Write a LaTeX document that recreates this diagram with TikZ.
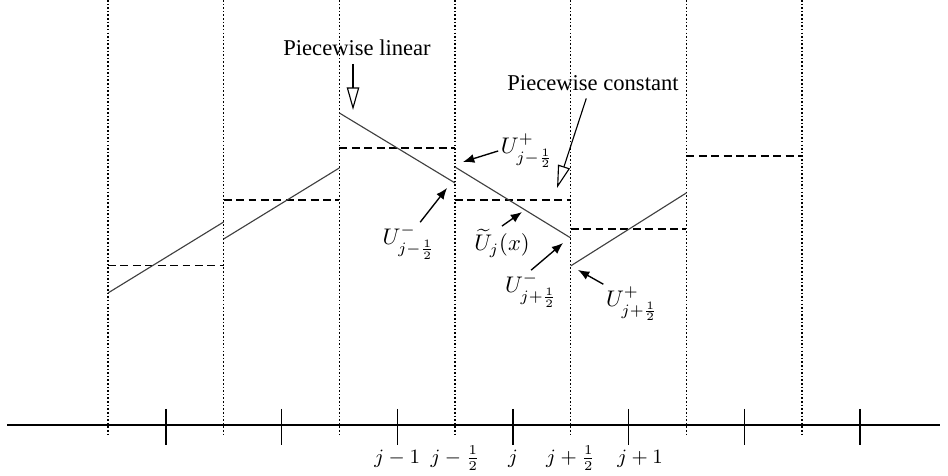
\documentclass[tikz,border=0pt]{standalone}
\usepackage{fontspec}
\setmainfont{Liberation Serif}
\usetikzlibrary{arrows.meta}
\begin{document}
\begin{tikzpicture}[x=1.8cm,y=1.8cm,
  cellbd/.style={line width=0.65pt,dash pattern=on 0.7pt off 0.9pt},
  avg/.style={line width=0.6pt,dash pattern=on 3.5pt off 2pt},
  slope/.style={line width=0.5pt,black!75},
  callout/.style={-{Triangle[open,length=10pt,width=5.5pt]},line width=0.5pt},
  ptr/.style={-{Latex[length=5pt,width=4pt]},line width=0.6pt},
  lbl/.style={inner sep=1pt}]
\useasboundingbox (-0.934,-0.441) rectangle (7.262,3.674);
% cell boundaries and axis
\foreach \k in {0,...,6} \draw[cellbd] (\k,3.674) -- (\k,-0.09);
\draw[line width=0.8pt] (-0.873,0) -- (7.193,0);
\foreach \k in {0,...,6} \draw[line width=0.6pt] (\k+0.5,0.138) -- (\k+0.5,-0.173);
\node[anchor=base] (jm1) at (2.5,-0.33) {\small $j-1$};
\node[anchor=base] (jmh) at (3,-0.33) {\small $j-\frac{1}{2}$};
\node[anchor=base] (j) at (3.5,-0.33) {\small $j$};
\node[anchor=base] (jph) at (4,-0.33) {\small $j+\frac{1}{2}$};
\node[anchor=base] (jp1) at (4.6,-0.33) {\small $j+1$};
% cell averages
\draw[avg] (0,1.377) -- (1,1.377);
\draw[avg] (1,1.945) -- (2,1.945);
\draw[avg] (2,2.395) -- (3,2.395);
\draw[avg] (3,1.945) -- (4,1.945);
\draw[avg] (4,1.694) -- (5,1.694);
\draw[avg] (5,2.326) -- (6,2.326);
% reconstruction
\draw[slope] (0,1.141) -- (1,1.755);
\draw[slope] (1,1.608) -- (2,2.222);
\draw[slope] (2,2.697) -- (3,2.092);
\draw[slope] (3,2.230) -- (4,1.617);
\draw[slope] (4,1.375) -- (5,2.006);
% labels
\coordinate (tipLin) at (2.118,2.723);
\coordinate (tipCst) at (3.882,2.049);
\coordinate (tipUpl) at (3.069,2.274);
\coordinate (tipUml) at (2.931,2.049);
\coordinate (tipUt) at (3.579,1.841);
\coordinate (tipUmp) at (3.934,1.573);
\coordinate (tipUpp) at (4.063,1.340);
\node (linear) at (2.153,3.259) {Piecewise linear};
\node (constant) at (4.193,2.957) {Piecewise constant};
\node[lbl] (Uplus) at (3.622,2.369) {$U^+_{j-\frac{1}{2}}$};
\node[lbl] (Uminus) at (2.600,1.582) {$U^-_{j-\frac{1}{2}}$};
\node[lbl] (Utilde) at (3.406,1.573) {$\widetilde{U}_j(x)$};
\node[lbl] (UminusR) at (3.657,1.167) {$U^-_{j+\frac{1}{2}}$};
\node[lbl] (UplusR) at (4.530,1.046) {$U^+_{j+\frac{1}{2}}$};
\draw[callout] (linear.south -| tipLin) -- (tipLin);
\draw[callout] ([xshift=-3pt]constant.south) -- (tipCst);
\draw[ptr] (Uplus.west) -- (tipUpl);
\draw[ptr] (Uminus.60) -- (tipUml);
\draw[ptr] (Utilde.north) -- (tipUt);
\draw[ptr] (UminusR.north) -- (tipUmp);
\draw[ptr] (UplusR.north west) -- (tipUpp);
\end{tikzpicture}
\end{document}
